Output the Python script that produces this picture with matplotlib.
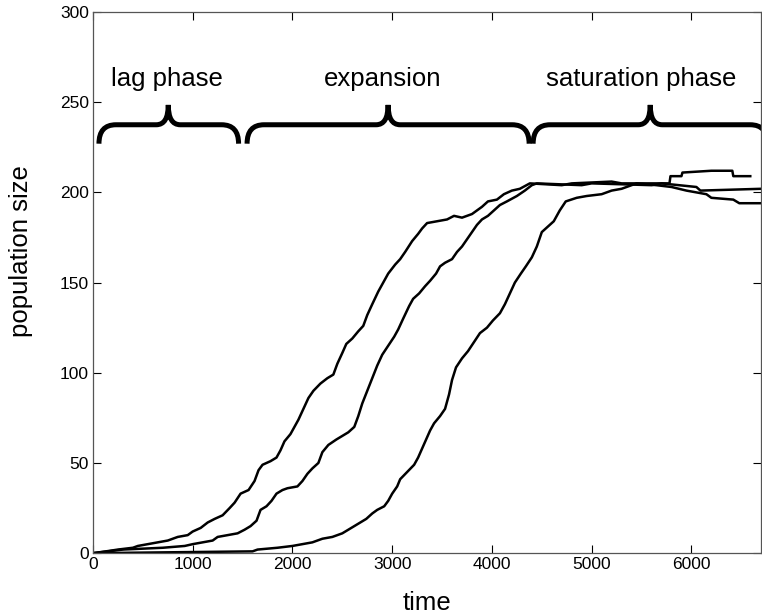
import matplotlib
matplotlib.use('Agg')
import matplotlib.pyplot as plt
from matplotlib.path import Path
from matplotlib.patches import PathPatch
import numpy as np

plt.rcParams['font.family'] = ['Liberation Sans', 'DejaVu Sans']

# three stochastic growth runs (time, population size)
t_a = [0, 130, 250, 400, 450, 550, 650, 750, 850, 950, 1000, 1080, 1150, 1220, 1300,
       1370, 1420, 1480, 1560, 1620, 1660, 1700, 1780, 1840, 1880, 1920, 1980, 2010,
       2060, 2110, 2160, 2210, 2280, 2350, 2410, 2450, 2500, 2540, 2600, 2660, 2710,
       2750, 2800, 2860, 2910, 2960, 3030, 3080, 3130, 3200, 3260, 3300, 3350, 3450,
       3550, 3620, 3700, 3800, 3850, 3900, 3960, 4050, 4120, 4200, 4280, 4380, 4700,
       4800, 5200, 5300, 5780, 5790, 5900, 5910, 6200, 6210, 6410, 6420, 6590]
y_a = [0, 1, 2, 3, 4, 5, 6, 7, 9, 10, 12, 14, 17, 19, 21,
       25, 28, 33, 35, 40, 46, 49, 51, 53, 57, 62, 66, 69,
       74, 80, 86, 90, 94, 97, 99, 105, 111, 116, 119, 123, 126,
       132, 138, 145, 150, 155, 160, 163, 167, 173, 177, 180, 183, 184,
       185, 187, 186, 188, 190, 192, 195, 196, 199, 201, 202, 205, 204,
       205, 206, 205, 205, 209, 209, 211, 212, 212, 212, 209, 209]

t_b = [0, 150, 300, 700, 920, 1000, 1100, 1200, 1250, 1350, 1450, 1520, 1580, 1640,
       1680, 1740, 1790, 1840, 1900, 1950, 2050, 2100, 2150, 2200, 2260, 2300, 2360,
       2440, 2500, 2560, 2620, 2660, 2700, 2750, 2800, 2850, 2900, 2960, 3020, 3060,
       3110, 3170, 3210, 3270, 3330, 3380, 3440, 3480, 3530, 3600, 3650, 3700, 3750,
       3800, 3850, 3900, 3960, 4020, 4080, 4150, 4250, 4330, 4400, 4450, 4900, 5000,
       5600, 5700, 6050, 6090, 6700]
y_b = [0, 1, 2, 3, 4, 5, 6, 7, 9, 10, 11, 13, 15, 18,
       24, 26, 29, 33, 35, 36, 37, 40, 44, 47, 50, 56, 60,
       63, 65, 67, 70, 76, 83, 90, 97, 104, 110, 115, 120, 124,
       130, 137, 141, 144, 148, 151, 155, 159, 161, 163, 167, 170, 174,
       178, 182, 185, 187, 190, 193, 195, 198, 201, 204, 205, 204, 205,
       204, 205, 203, 201, 202]

t_c = [0, 1600, 1650, 1850, 2000, 2100, 2200, 2300, 2400, 2500, 2560, 2620, 2680, 2740,
       2800, 2850, 2920, 2960, 3000, 3050, 3080, 3150, 3220, 3260, 3300, 3340, 3380,
       3420, 3480, 3530, 3570, 3600, 3640, 3700, 3760, 3820, 3880, 3950, 4010, 4080,
       4130, 4180, 4230, 4290, 4340, 4400, 4450, 4500, 4560, 4620, 4680, 4740, 4850,
       4950, 5100, 5200, 5300, 5400, 5450, 5650, 5800, 5950, 6150, 6200, 6420, 6480,
       6700]
y_c = [0, 1, 2, 3, 4, 5, 6, 8, 9, 11, 13, 15, 17, 19,
       22, 24, 26, 29, 33, 37, 41, 45, 49, 53, 58, 63, 68,
       72, 76, 80, 88, 96, 103, 108, 112, 117, 122, 125, 129, 133,
       138, 144, 150, 155, 159, 164, 170, 178, 181, 184, 190, 195, 197,
       198, 199, 201, 202, 204, 205, 204, 203, 201, 199, 197, 196, 194,
       194]

# phase braces
phase_names = ['lag phase', 'expansion', 'saturation phase']
phase_start = [60, 1545, 4413]
phase_end = [1460, 4373, 6760]
phase_peak = [755, 2959, 5587]
phase_text_x = [740, 2904, 5500]
brace_arm, brace_end, brace_top = 237.5, 227, 248.5
text_y = 263


def brace_path(x0, x1, xc, r=170, r2=120):
    verts = [(x0, brace_end), (x0, brace_arm), (x0 + r, brace_arm),
             (xc - r2, brace_arm),
             (xc, brace_arm), (xc, brace_top),
             (xc, brace_top), (xc, brace_arm), (xc + r2, brace_arm),
             (x1 - r, brace_arm),
             (x1, brace_arm), (x1, brace_end)]
    codes = [Path.MOVETO, Path.CURVE3, Path.CURVE3,
             Path.LINETO,
             Path.CURVE3, Path.CURVE3,
             Path.MOVETO, Path.CURVE3, Path.CURVE3,
             Path.LINETO,
             Path.CURVE3, Path.CURVE3]
    return Path(verts, codes)


fig = plt.figure(figsize=(7.62, 6.16), dpi=100)
ax = fig.add_axes([0.122, 0.102, 0.877, 0.8785])

for t, y in [(t_a, y_a), (t_b, y_b), (t_c, y_c)]:
    ax.plot(t, y, color='black', lw=1.8)

for name, x0, x1, xc, tx in zip(phase_names, phase_start, phase_end, phase_peak, phase_text_x):
    ax.add_patch(PathPatch(brace_path(x0, x1, xc), fill=False, lw=3.6,
                           edgecolor='black', capstyle='butt', joinstyle='round'))
    ax.text(tx, text_y, name, ha='center', va='center', fontsize=18.5)

ax.set_xlim(0, 6700)
ax.set_ylim(0, 300)
ax.set_xticks(np.arange(0, 6001, 1000))
ax.set_yticks(np.arange(0, 301, 50))
ax.tick_params(direction='in', length=6, width=0.8, top=True, right=True,
               labelsize=12.5, colors='black', pad=3)
for s in ax.spines.values():
    s.set_color('#555555')
    s.set_linewidth(0.9)
ax.set_xlabel('time', fontsize=18.5, va='center')
ax.set_ylabel('population size', fontsize=18.5, va='center')
ax.xaxis.set_label_coords(0.5, -0.092)
ax.yaxis.set_label_coords(-0.108, 0.558)

fig.savefig('out.png', dpi=100)
